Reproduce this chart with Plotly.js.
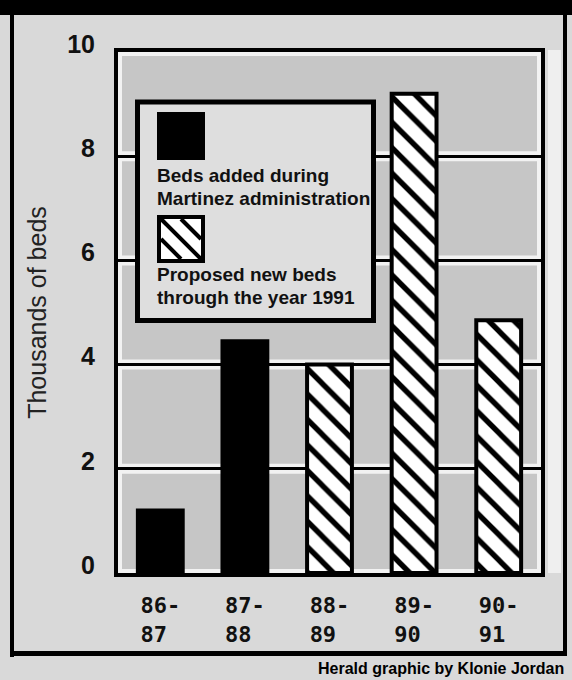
<!DOCTYPE html>
<html><head><meta charset="utf-8">
<script src="https://cdn.plot.ly/plotly-3.0.1.min.js"></script>
<style>html,body{margin:0;padding:0;background:#d9d9d9;}</style>
</head><body><div id="chart" style="width:572px;height:680px;"></div>
<script>
// ---- data ----
const categories = ['86-87', '87-88', '88-89', '89-90', '90-91'];
const tickLabels = ['86-<br>87\u00a0', '87-<br>88\u00a0', '88-<br>89\u00a0', '89-<br>90\u00a0', '90-<br>91\u00a0'];
const addedYears = ['86-87', '87-88'];
const addedBeds = [1.2, 4.45];
const proposedYears = ['88-89', '89-90', '90-91'];
const proposedBeds = [4.0, 9.2, 4.85];
const yTicks = [0, 2, 4, 6, 8, 10];
const gridTicks = [2, 4, 6, 8];
const seriesNames = ['Beds added during Martinez administration', 'Proposed new beds through the year 1991'];
const legendLines = [['Beds added during', 'Martinez administration'], ['Proposed new beds', 'through the year 1991']];
const yTitle = 'Thousands of beds';
const credit = 'Herald graphic by Klonie Jordan';

// ---- layout geometry (pixels -> paper) ----
const W = 572, H = 680;
const M = {l: 118, r: 31, t: 52, b: 107};
const PW = W - M.l - M.r, PH = H - M.t - M.b;
const X = px => (px - M.l) / PW;
const Y = py => (H - M.b - py) / PH;

const traces = [
  {type: 'bar', name: seriesNames[0], x: addedYears, y: addedBeds,
   marker: {color: '#000', line: {color: '#000', width: 4}}, hoverinfo: 'x+y'},
  {type: 'bar', name: seriesNames[1], x: proposedYears, y: proposedBeds,
   marker: {color: '#fff', line: {color: '#000', width: 4},
            pattern: {shape: '\\', fgcolor: '#000', bgcolor: '#fff', size: 18, solidity: 0.3, fillmode: 'replace'}},
   hoverinfo: 'x+y'}
];

const shapes = [];
function rectPx(x0, y0, x1, y1, fill, line, lw, layer) {
  shapes.push({type: 'rect', xref: 'paper', yref: 'paper', x0: X(x0), x1: X(x1), y0: Y(y1), y1: Y(y0),
    fillcolor: fill, line: {color: line || 'rgba(0,0,0,0)', width: lw || 0}, layer: layer || 'above'});
}
function linePx(x0, y0, x1, y1, color, lw, layer) {
  shapes.push({type: 'line', xref: 'paper', yref: 'paper', x0: X(x0), x1: X(x1), y0: Y(y0), y1: Y(y1),
    line: {color: color, width: lw}, layer: layer || 'above'});
}
// white inner padding of plot area
shapes.push({type: 'rect', xref: 'paper', yref: 'paper', x0: 0, x1: 1, y0: 0, y1: 1,
  fillcolor: 'rgba(0,0,0,0)', line: {color: '#f2f2f2', width: 8}, layer: 'below'});
// white halos around grid lines
gridTicks.forEach(v => shapes.push({type: 'line', xref: 'paper', yref: 'y', x0: 0, x1: 1, y0: v, y1: v,
  line: {color: '#f2f2f2', width: 10}, layer: 'below'}));
// outer frame
rectPx(0, 0, W, 15, '#000');
rectPx(548, 50, 561, 573, '#efefef');
rectPx(10, 15, 14, 657, '#000');
rectPx(563, 15, 567, 652, '#000');
rectPx(10, 651, 567, 656, '#000');
// legend box
rectPx(137.5, 102, 373.5, 320.5, '#dedede', '#000', 5);
rectPx(157, 112, 205, 160, '#000');
rectPx(159, 217, 203, 261, '#fff', '#000', 4);
[-20, 0, 20].forEach(off => {
  const c = 58 + off, x0 = 161, x1 = 201, y0 = 219, y1 = 259;
  const sx = Math.max(x0, y0 - c), ex = Math.min(x1, y1 - c);
  linePx(sx, sx + c, ex, ex + c, '#000', 4);
});

const legFont = {family: 'Liberation Sans, Arial, sans-serif', size: 19, color: '#111', weight: 'bold'};
const annotations = [];
const legY = [[176, 198], [274, 297]];
legendLines.forEach((lines, i) => lines.forEach((t, j) => annotations.push({
  xref: 'paper', yref: 'paper', x: X(155), y: Y(legY[i][j]), xanchor: 'left', yanchor: 'middle',
  text: t, showarrow: false, font: legFont})));
annotations.push({xref: 'paper', yref: 'paper', x: X(566), y: Y(668), xanchor: 'right', yanchor: 'middle',
  text: credit, showarrow: false,
  font: {family: 'Liberation Sans, Arial, sans-serif', size: 16, color: '#000', weight: 'bold'}});

const layout = {
  width: W, height: H, margin: M,
  paper_bgcolor: '#d9d9d9', plot_bgcolor: '#c6c6c6',
  showlegend: false, barmode: 'overlay', bargap: 0.47,
  xaxis: {type: 'category', categoryorder: 'array', categoryarray: categories,
    tickvals: categories, ticktext: tickLabels, ticks: '', showgrid: false, zeroline: false,
    showline: true, linecolor: '#000', linewidth: 4, mirror: true, ticklabelstandoff: 10,
    tickfont: {family: 'DejaVu Sans Mono, monospace', size: 22, color: '#111', weight: 'bold'}},
  yaxis: {range: [0, 10], tickvals: yTicks, ticks: '', showgrid: true, gridcolor: '#000', gridwidth: 3,
    zeroline: false, showline: true, linecolor: '#000', linewidth: 4, mirror: true,
    ticklabelshift: -8, ticklabelstandoff: 14,
    tickfont: {family: 'Liberation Sans, Arial, sans-serif', size: 25, color: '#111', weight: 'bold'},
    title: {text: yTitle, standoff: 14, font: {family: 'Liberation Sans, Arial, sans-serif', size: 25, color: '#222'}}},
  shapes: shapes, annotations: annotations
};
Plotly.newPlot('chart', traces, layout, {displayModeBar: false, staticPlot: true});
</script></body></html>
